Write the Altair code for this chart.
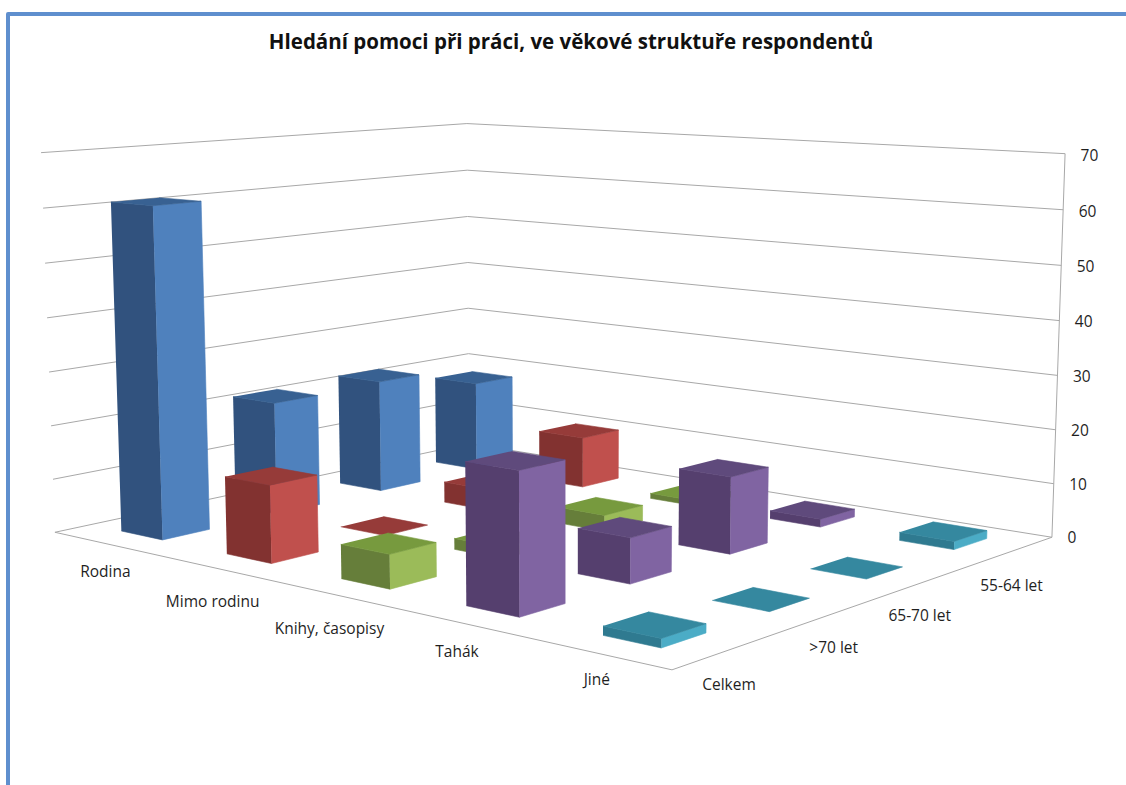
import altair as alt
import numpy as np
import pandas as pd

W, H = 1126, 785
TITLE = "Hledání pomoci při práci, ve věkové struktuře respondentů"
CATEGORIES = ["Rodina", "Mimo rodinu", "Knihy, časopisy", "Tahák", "Jiné"]
AGE_GROUPS = ["Celkem", ">70 let", "65-70 let", "55-64 let"]
TICKS = [0, 10, 20, 30, 40, 50, 60, 70]

# one list per age group, in the order of CATEGORIES
CELKEM = [61, 14, 6, 24, 1.5]
OVER_70 = [21.5, 0, 2, 8, 0]
AGE_65_70 = [22, 4, 3, 14, 0]
AGE_55_64 = [18, 10, 1, 1.5, 1.5]
VALUES = [CELKEM, OVER_70, AGE_65_70, AGE_55_64]

# light side, dark side, top face per category
FACE_COLOURS = [
    ("#4F81BD", "#31527E", "#386192"),
    ("#C0504D", "#823230", "#963B39"),
    ("#9BBB59", "#667E3A", "#779A3E"),
    ("#8064A2", "#553F6E", "#5F4A7C"),
    ("#4BACC6", "#2F7A90", "#35889F"),
]
GRID = "#A8A8A8"
FRAME = "#5F8FCE"
INK = "#1F1F1F"

# perspective of the box: (category axis, age axis, value/70) -> pixel
VIEW_ANCHORS = [
    ((0, 0, 0), (55, 531)), ((1, 0, 0), (672, 671)), ((1, 1, 0), (1052, 536)),
    ((0, 1, 0), (469, 445)), ((0, 0, 1), (41, 153)), ((0, 1, 1), (467, 123)),
    ((1, 1, 1), (1065, 154)),
]

# label nudges away from the floor edges
CATEGORY_DROP = [28, 35, 36, 30, 27]
AGE_DROP = [35, 35, 35, 35]
AGE_SHIFT = [0, 0, -8, -1]


def fit_camera(anchors):
    rows, rhs = [], []
    for (a, b, c), (px, py) in anchors:
        rows.append([a, b, c, 1, 0, 0, 0, 0, -px * a, -px * b, -px * c])
        rhs.append(px)
        rows.append([0, 0, 0, 0, a, b, c, 1, -py * a, -py * b, -py * c])
        rhs.append(py)
    sol = np.linalg.lstsq(np.array(rows, float), np.array(rhs, float), rcond=None)[0]
    return np.append(sol, 1.0).reshape(3, 4)


CAMERA = fit_camera(VIEW_ANCHORS)


def project(u, v, value=0.0):
    x, y, w = CAMERA @ np.array([u, v, value / 70.0, 1.0])
    return float(x / w), float(y / w)


BAR_U = 0.40  # share of a category cell taken by a bar
BAR_V = 0.40  # share of an age cell taken by a bar
nu, nv = len(CATEGORIES), len(AGE_GROUPS)

polygons = []


def add_face(corners, colour):
    face = len(polygons)
    polygons.append(
        pd.DataFrame(
            [{"x": p[0], "y": p[1], "i": i, "face": face, "colour": colour}
             for i, p in enumerate(corners)]
        )
    )


# back rows first, and left to right inside a row, so nearer bars cover farther ones
for row in range(nv - 1, -1, -1):
    for col in range(nu):
        value = VALUES[row][col]
        light, dark, top = FACE_COLOURS[col]
        u0 = (col + 0.5 - BAR_U / 2) / nu
        u1 = (col + 0.5 + BAR_U / 2) / nu
        v0 = (row + 0.5 - BAR_V / 2) / nv
        v1 = (row + 0.5 + BAR_V / 2) / nv
        if value > 0:
            add_face([project(u0, v0), project(u1, v0), project(u1, v0, value), project(u0, v0, value)], dark)
            add_face([project(u1, v0), project(u1, v1), project(u1, v1, value), project(u1, v0, value)], light)
        add_face([project(u0, v0, value), project(u1, v0, value), project(u1, v1, value), project(u0, v1, value)], top)

faces = pd.concat(polygons, ignore_index=True)

# walls and floor edges
grid_rows = []
for n, tick in enumerate(TICKS):
    for i, p in enumerate([project(0, 0, tick), project(0, 1, tick), project(1, 1, tick)]):
        grid_rows.append({"x": p[0], "y": p[1], "i": i, "line": n})
for i, p in enumerate([project(0, 0), project(1, 0), project(1, 1)]):
    grid_rows.append({"x": p[0], "y": p[1], "i": i, "line": 100})
for i, p in enumerate([project(1, 1), project(1, 1, 70)]):
    grid_rows.append({"x": p[0], "y": p[1], "i": i, "line": 101})
grid = pd.DataFrame(grid_rows)

labels = []
for col, name in enumerate(CATEGORIES):
    p = project((col + 0.5) / nu, 0)
    labels.append({"x": p[0], "y": p[1] + CATEGORY_DROP[col], "text": name})
for row, name in enumerate(AGE_GROUPS):
    p = project(1, (row + 0.5) / nv)
    labels.append({"x": p[0] + AGE_SHIFT[row], "y": p[1] + AGE_DROP[row], "text": name})
labels = pd.DataFrame(labels)

tick_labels = []
for tick in TICKS:
    p = project(1, 1, tick)
    tick_labels.append({"x": p[0] + 15.5, "y": p[1] + 1 + tick * 0.015, "text": str(tick)})
tick_labels = pd.DataFrame(tick_labels)

x_enc = alt.X("x:Q", scale=alt.Scale(domain=[0, W], range=[0, W]), axis=None)
y_enc = alt.Y("y:Q", scale=alt.Scale(domain=[0, H], range=[0, H]), axis=None)

frame = (
    alt.Chart(pd.DataFrame({"x": [8, 8, W], "y": [H, 14, 14], "i": [0, 1, 2]}))
    .mark_line(color=FRAME, strokeWidth=4, strokeJoin="round")
    .encode(x=x_enc, y=y_enc, order="i:Q")
)

walls = (
    alt.Chart(grid)
    .mark_line(color=GRID, strokeWidth=1)
    .encode(x=x_enc, y=y_enc, detail="line:N", order="i:Q")
)

bars = (
    alt.Chart(faces)
    .mark_line(strokeWidth=0.6, strokeJoin="round")
    .encode(
        x=x_enc,
        y=y_enc,
        detail="face:Q",
        order="i:Q",
        fill=alt.Fill("colour:N", scale=None),
        stroke=alt.Stroke("colour:N", scale=None),
    )
)

text = (
    alt.Chart(labels)
    .mark_text(font="Open Sans", fontSize=15.5, color=INK, align="center", baseline="middle")
    .encode(x=x_enc, y=y_enc, text="text:N")
)

ticks = (
    alt.Chart(tick_labels)
    .mark_text(font="Open Sans", fontSize=15.5, color=INK, align="left", baseline="middle")
    .encode(x=x_enc, y=y_enc, text="text:N")
)

title = (
    alt.Chart(pd.DataFrame({"x": [571], "y": [43], "text": [TITLE]}))
    .mark_text(font="Open Sans", fontSize=20.5, fontWeight="bold", color="#111111", align="center", baseline="middle")
    .encode(x=x_enc, y=y_enc, text="text:N")
)

chart = (
    alt.layer(frame, walls, bars, text, ticks, title)
    .properties(width=W, height=H, padding=0, background="white", autosize=alt.AutoSizeParams(type="none"))
    .configure_view(stroke=None)
)

chart.save("out.html", embed_options={"renderer": "svg", "actions": False})
